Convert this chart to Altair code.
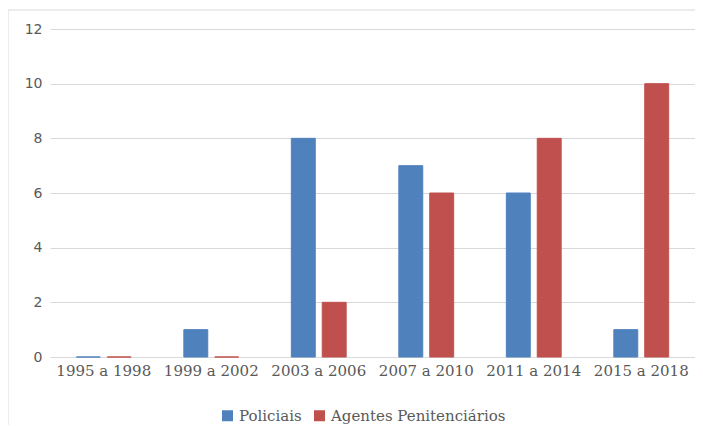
import altair as alt
import pandas as pd

periods = ["1995 a 1998", "1999 a 2002", "2003 a 2006", "2007 a 2010", "2011 a 2014", "2015 a 2018"]
series = ["Policiais", "Agentes Penitenciários"]
policiais = [0, 1, 8, 7, 6, 1]
agentes = [0, 0, 2, 6, 8, 10]
colors = ["#4F81BD", "#C0504D"]
y_ticks = [0, 2, 4, 6, 8, 10, 12]

rows = []
for p, a, b in zip(periods, policiais, agentes):
    rows.append({"periodo": p, "serie": series[0], "valor": a})
    rows.append({"periodo": p, "serie": series[1], "valor": b})
df = pd.DataFrame(rows)

W, H = 645, 328

bars = alt.Chart(df).mark_bar(strokeWidth=1).encode(
    x=alt.X("periodo:N", sort=periods, title=None,
            scale=alt.Scale(paddingInner=0.49, paddingOuter=0.245),
            axis=alt.Axis(labelAngle=0, ticks=False, domain=True, domainColor="#d9d9d9",
                          labelFont="DejaVu Serif", labelFontSize=15, labelColor="#595959",
                          labelPadding=6, grid=False)),
    xOffset=alt.XOffset("serie:N", sort=series, scale=alt.Scale(paddingInner=0.226)),
    y=alt.Y("valor:Q", title=None,
            scale=alt.Scale(domain=[0, 12], nice=False),
            axis=alt.Axis(values=y_ticks, ticks=False, domain=False, gridColor="#d9d9d9",
                          labelFont="DejaVu Sans", labelFontSize=14, labelColor="#595959",
                          labelPadding=8)),
    color=alt.Color("serie:N", sort=series, scale=alt.Scale(domain=series, range=colors),
                    legend=alt.Legend(title=None, orient="none", direction="horizontal",
                                      legendX=170, legendY=379, symbolType="square",
                                      symbolSize=121, symbolStrokeWidth=0,
                                      labelFont="DejaVu Serif", labelFontSize=15,
                                      labelColor="#595959", labelLimit=0,
                                      labelOffset=4, columnPadding=10)),
    stroke=alt.Stroke("serie:N", sort=series, scale=alt.Scale(domain=series, range=colors),
                      legend=None),
)

border = alt.Chart(pd.DataFrame({"b": [0]})).mark_rect(
    fill=None, stroke="#d9d9d9", strokeWidth=1
).encode(
    x=alt.value(-42), x2=alt.value(670), y=alt.value(-19), y2=alt.value(420)
)

chart = alt.layer(border, bars).properties(
    width=W, height=H,
    autosize=alt.AutoSizeParams(type="none"),
    padding={"left": 42, "top": 21, "right": 0, "bottom": 68},
).configure_view(stroke=None)

chart.save("out.html", embed_options={"renderer": "svg", "actions": False})
